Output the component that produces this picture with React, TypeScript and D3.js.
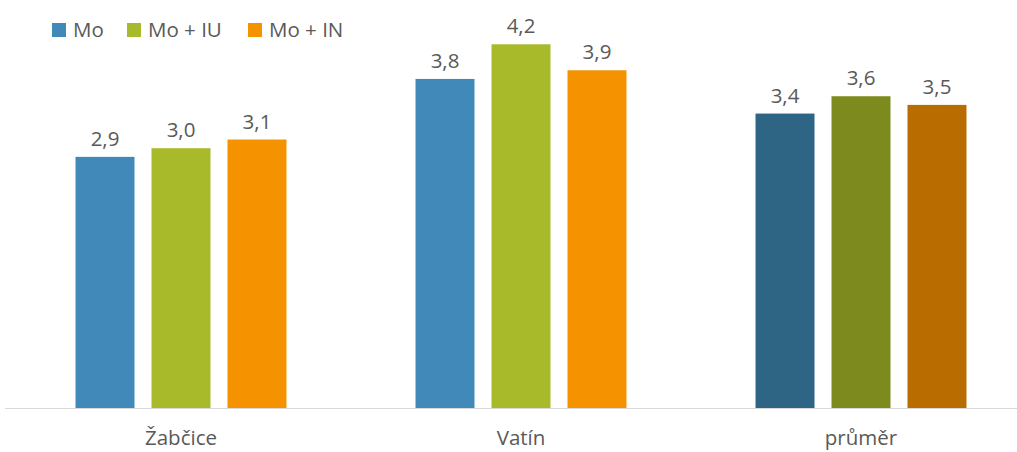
import React, { useRef, useEffect } from 'react';
import * as d3 from 'd3';

const CATEGORIES = ['Žabčice', 'Vatín', 'průměr'];
const SERIES = ['Mo', 'Mo + IU', 'Mo + IN'];
const VALUES = [
  [2.9, 3.0, 3.1],
  [3.8, 4.2, 3.9],
  [3.4, 3.6, 3.5],
];
const COLORS = ['#4189b8', '#a8b92a', '#f59200'];
const DARK_COLORS = ['#2e6584', '#7d8a1e', '#b96d00'];

export default function App() {
  const ref = useRef<SVGSVGElement>(null);

  useEffect(() => {
    const svg = d3.select(ref.current);
    svg.selectAll('*').remove();

    const W = 1017;
    const baseY = 408;
    const font = '"Open Sans", sans-serif';
    const textColor = '#595959';
    const fontSize = '20.5px';

    const x0 = d3.scaleBand().domain(CATEGORIES).range([11, 1031]).padding(0);
    const x1 = d3.scaleBand().domain(SERIES).range([0, x0.bandwidth()])
      .paddingInner(0.2237).paddingOuter(0.849);
    const y = d3.scaleLinear().domain([0, 4.5]).range([baseY, baseY - 4.5 * 86.6]);

    // axis line
    svg.append('line')
      .attr('x1', 5).attr('x2', W)
      .attr('y1', baseY + 0.5).attr('y2', baseY + 0.5)
      .attr('stroke', '#d9d9d9').attr('stroke-width', 1);

    CATEGORIES.forEach((cat, ci) => {
      const g = svg.append('g').attr('transform', `translate(${x0(cat)},0)`);
      const palette = ci === 2 ? DARK_COLORS : COLORS;
      SERIES.forEach((s, si) => {
        const v = VALUES[ci][si];
        g.append('rect')
          .attr('x', x1(s)!)
          .attr('y', y(v))
          .attr('width', x1.bandwidth())
          .attr('height', baseY - y(v))
          .attr('fill', palette[si]);
        g.append('text')
          .attr('x', x1(s)! + x1.bandwidth() / 2)
          .attr('y', y(v) - 11)
          .attr('text-anchor', 'middle')
          .attr('font-family', font)
          .attr('font-size', fontSize)
          .attr('fill', textColor)
          .text(v.toFixed(1).replace('.', ','));
      });
      svg.append('text')
        .attr('x', x0(cat)! + x0.bandwidth() / 2)
        .attr('y', 445)
        .attr('text-anchor', 'middle')
        .attr('font-family', font)
        .attr('font-size', fontSize)
        .attr('fill', textColor)
        .text(cat);
    });

    // legend
    const legendX = [52, 127, 248];
    SERIES.forEach((s, i) => {
      svg.append('rect')
        .attr('x', legendX[i]).attr('y', 23)
        .attr('width', 14).attr('height', 14)
        .attr('fill', COLORS[i]);
      svg.append('text')
        .attr('x', legendX[i] + 21)
        .attr('y', 37)
        .attr('font-family', font)
        .attr('font-size', fontSize)
        .attr('fill', textColor)
        .text(s);
    });
  }, []);

  return (
    <svg ref={ref} width={1017} height={452}
      style={{ position: 'absolute', left: 0, top: 0, background: '#fff' }} />
  );
}
